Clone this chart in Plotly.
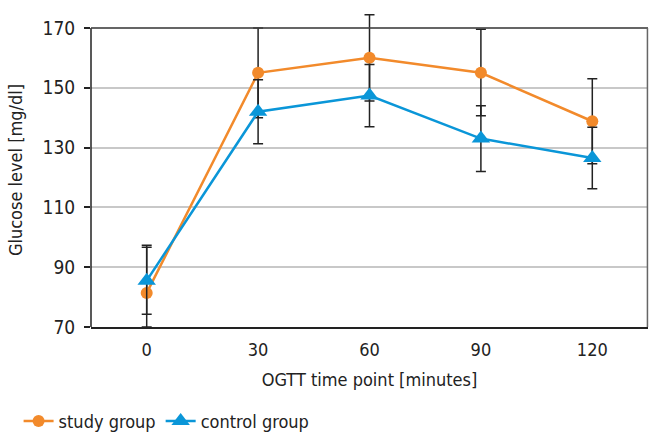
import plotly.graph_objects as go

time_points = ["0", "30", "60", "90", "120"]
study_mean = [81.4, 155.0, 160.0, 155.0, 138.8]
study_sd_plus = [15.9, 15.0, 14.4, 14.6, 14.2]
study_sd_minus = [11.4, 15.0, 14.4, 14.4, 14.2]
control_mean = [85.5, 142.0, 147.4, 133.0, 126.5]
control_sd = [11.2, 10.7, 10.4, 11.0, 10.3]
y_ticks = [70, 90, 110, 130, 150, 170]

FONT = "DejaVu Sans Condensed, DejaVu Sans, sans-serif"
ORANGE = "#F28A2B"
BLUE = "#0A96D8"
Y_MIN, Y_MAX, Y_TOP = 70, 170, 175

fig = go.Figure()
fig.add_trace(go.Scatter(
    x=time_points, y=study_mean, name="study group", mode="lines+markers",
    line=dict(color=ORANGE, width=2.5),
    marker=dict(symbol="circle", size=12, color=ORANGE),
    error_y=dict(type="data", array=study_sd_plus, arrayminus=study_sd_minus, symmetric=False,
                 visible=True, color="#222222", thickness=1.5, width=5),
    cliponaxis=False,
))
fig.add_trace(go.Scatter(
    x=time_points, y=control_mean, name="control group", mode="lines+markers",
    line=dict(color=BLUE, width=2.5),
    marker=dict(symbol="triangle-up", size=16, color=BLUE),
    error_y=dict(type="data", array=control_sd, visible=True, color="#222222", thickness=1.5, width=5),
    cliponaxis=False,
))

fig.update_layout(
    width=649, height=433,
    margin=dict(l=91, r=1, t=13, b=106, autoexpand=False),
    paper_bgcolor="white", plot_bgcolor="white",
    font=dict(family=FONT, size=18, color="#222222"),
    legend=dict(orientation="h", x=-0.13, xanchor="left", y=-0.3, yanchor="middle",
                font=dict(size=18), itemwidth=30, tracegroupgap=0),
    showlegend=True,
)
fig.update_xaxes(
    type="category", range=[-0.5, 4.5],
    showline=True, linecolor="#222222", linewidth=1.5, mirror=False,
    showgrid=False, ticks="", tickfont=dict(size=18), ticklabelstandoff=6,
    title=dict(text="OGTT time point [minutes]", font=dict(size=18), standoff=14),
)
fig.update_yaxes(
    range=[Y_MIN, Y_TOP], tickvals=y_ticks,
    showline=False,
    showgrid=True, gridcolor="#c8c8c8", gridwidth=1.5,
    ticks="outside", ticklen=6, tickcolor="#222222", tickwidth=1.5,
    tickfont=dict(size=19), ticklabelstandoff=5,
    title=dict(text="Glucose level [mg/dl]", font=dict(size=18), standoff=15),
    zeroline=False,
)
# plot box: left axis (dark), top and right border (grey)
fig.add_shape(type="line", xref="paper", yref="y", x0=0, x1=0, y0=Y_MIN, y1=Y_MAX,
              line=dict(color="#222222", width=1.5), layer="above")
fig.add_shape(type="line", xref="paper", yref="y", x0=0, x1=1, y0=Y_MAX, y1=Y_MAX,
              line=dict(color="#444444", width=1.5), layer="above")
fig.add_shape(type="line", xref="paper", yref="y", x0=0.999, x1=0.999, y0=Y_MIN, y1=Y_MAX,
              line=dict(color="#666666", width=1.5), layer="above")

fig.write_html("out.html", config={"displayModeBar": False},
               post_script="document.body.style.margin='0';document.body.style.overflow='hidden';")
